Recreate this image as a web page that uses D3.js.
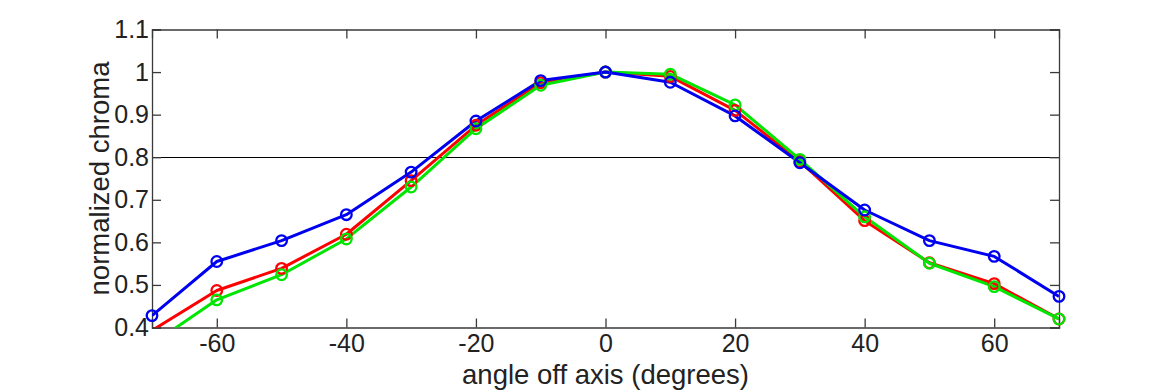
<!DOCTYPE html>
<html>
<head>
<meta charset="utf-8">
<script src="https://cdn.jsdelivr.net/npm/d3@7"></script>
<style>
  html, body { margin: 0; padding: 0; background: #fff; }
  svg { display: block; }
  text { font-family: "Liberation Sans", Arial, Helvetica, sans-serif; fill: #222; }
</style>
</head>
<body>
<svg id="chart" width="1170" height="390"></svg>
<script>
const angles = [-70, -60, -50, -40, -30, -20, -10, 0, 10, 20, 30, 40, 50, 60, 70];
const redValues   = [0.393, 0.487, 0.539, 0.619, 0.745, 0.875, 0.975, 1.0, 0.99, 0.91, 0.79, 0.651, 0.552, 0.503, 0.42];
const greenValues = [0.361, 0.465, 0.524, 0.608, 0.730, 0.867, 0.969, 1.0, 0.995, 0.923, 0.795, 0.660, 0.551, 0.496, 0.420];
const blueValues  = [0.428, 0.555, 0.604, 0.665, 0.765, 0.885, 0.980, 1.0, 0.976, 0.897, 0.787, 0.676, 0.604, 0.567, 0.473];
const xTicks = [-60, -40, -20, 0, 20, 40, 60];
const yTicks = [0.4, 0.5, 0.6, 0.7, 0.8, 0.9, 1, 1.1];
const threshold = 0.8;
const xLabel = "angle off axis (degrees)";
const yLabel = "normalized chroma";

const series = [
  { name: "red", values: redValues, color: "#ff0000" },
  { name: "green", values: greenValues, color: "#00e600" },
  { name: "blue", values: blueValues, color: "#0000f0" }
];

const L = 152, R = 1059, T = 29.5, B = 327.5;
const svg = d3.select("#chart");
const x = d3.scaleLinear().domain([-70, 70]).range([L, R]);
const y = d3.scaleLinear().domain([0.4, 1.1]).range([B, T]);

svg.append("defs").append("clipPath").attr("id", "plotclip")
  .append("rect").attr("x", L).attr("y", T).attr("width", R - L).attr("height", B - T);

// threshold line
svg.append("line")
  .attr("x1", L).attr("x2", R)
  .attr("y1", Math.round(y(threshold)) + 0.5).attr("y2", Math.round(y(threshold)) + 0.5)
  .attr("stroke", "#000").attr("stroke-width", 1.2);

// axes
const axisColor = "#3a3a3a";
const tickLen = 9;

const xb = svg.append("g").attr("transform", `translate(0,${B})`)
  .call(d3.axisBottom(x).tickValues(xTicks).tickSize(-tickLen).tickPadding(7).tickFormat(d => String(d)));
const xt = svg.append("g").attr("transform", `translate(0,${T})`)
  .call(d3.axisTop(x).tickValues(xTicks).tickSize(-tickLen).tickFormat(""));
const yl = svg.append("g").attr("transform", `translate(${L},0)`)
  .call(d3.axisLeft(y).tickValues(yTicks).tickSize(-tickLen).tickPadding(3).tickFormat(d => String(d)));
const yr = svg.append("g").attr("transform", `translate(${R},0)`)
  .call(d3.axisRight(y).tickValues(yTicks).tickSize(-tickLen).tickFormat(""));

[xb, xt, yl, yr].forEach(g => {
  g.select(".domain").attr("stroke", axisColor).attr("stroke-width", 1.3);
  g.selectAll(".tick line").attr("stroke", axisColor).attr("stroke-width", 1.3);
  g.selectAll("text").style("font-family", '"Liberation Sans", Arial, sans-serif')
    .style("font-size", "25px").attr("fill", "#222");
});
xb.selectAll(".tick text").attr("dy", "0.71em");

const plot = svg.append("g").attr("clip-path", "url(#plotclip)");
const markers = svg.append("g");
const line = d3.line().x((d, i) => x(angles[i])).y(d => y(d));

series.forEach(s => {
  plot.append("path")
    .datum(s.values)
    .attr("fill", "none")
    .attr("stroke", s.color)
    .attr("stroke-width", 3)
    .attr("stroke-linejoin", "round")
    .attr("d", line);
  markers.selectAll(null)
    .data(s.values.map((v, i) => ({ a: angles[i], v })).filter(d => d.v >= 0.4))
    .enter().append("circle")
    .attr("cx", d => x(d.a)).attr("cy", d => y(d.v))
    .attr("r", 5.3)
    .attr("fill", "none")
    .attr("stroke", s.color)
    .attr("stroke-width", 2.3);
});

// axis labels
svg.append("text")
  .attr("x", (L + R) / 2).attr("y", 384)
  .attr("text-anchor", "middle")
  .style("font-size", "27.5px")
  .text(xLabel);
svg.append("text")
  .attr("transform", `translate(109,${(T + B) / 2}) rotate(-90)`)
  .attr("text-anchor", "middle")
  .style("font-size", "27.5px")
  .text(yLabel);
</script>
</body>
</html>
